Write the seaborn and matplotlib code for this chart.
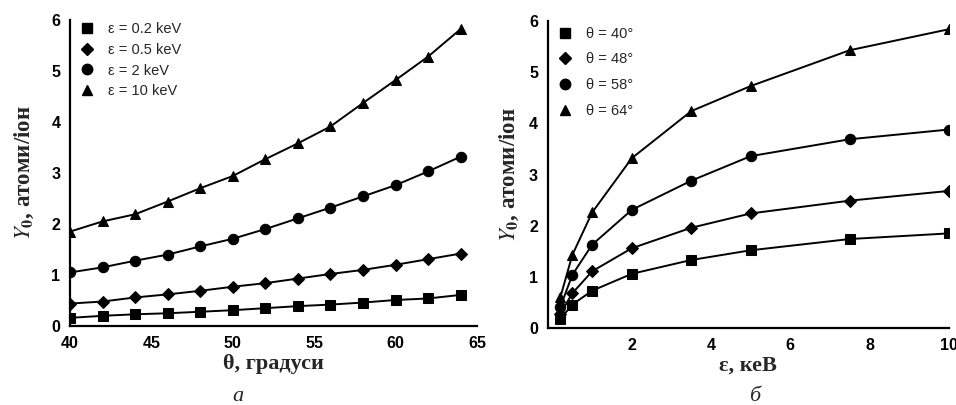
import numpy as np
import pandas as pd
import matplotlib
matplotlib.use("Agg")
import matplotlib.pyplot as plt
from matplotlib.ticker import MultipleLocator, FixedLocator
import seaborn as sns

# panel a: yield vs incidence angle
theta = [40, 42, 44, 46, 48, 50, 52, 54, 56, 58, 60, 62, 64]
y_02kev = [0.16, 0.20, 0.23, 0.25, 0.28, 0.31, 0.35, 0.39, 0.42, 0.46, 0.51, 0.54, 0.61]
y_05kev = [0.44, 0.48, 0.56, 0.62, 0.69, 0.77, 0.84, 0.93, 1.02, 1.10, 1.20, 1.31, 1.42]
y_2kev = [1.05, 1.15, 1.28, 1.40, 1.56, 1.71, 1.90, 2.11, 2.32, 2.54, 2.76, 3.03, 3.32]
y_10kev = [1.85, 2.05, 2.19, 2.44, 2.70, 2.94, 3.27, 3.58, 3.91, 4.37, 4.82, 5.28, 5.82]
labels_a = ["ε = 0.2 keV", "ε = 0.5 keV", "ε = 2 keV", "ε = 10 keV"]

# panel b: yield vs ion energy
energy = [0.2, 0.5, 1, 2, 3.5, 5, 7.5, 10]
y_40 = [0.18, 0.46, 0.73, 1.06, 1.33, 1.52, 1.74, 1.85]
y_48 = [0.28, 0.68, 1.11, 1.56, 1.96, 2.24, 2.49, 2.68]
y_58 = [0.42, 1.04, 1.63, 2.31, 2.88, 3.36, 3.69, 3.88]
y_64 = [0.61, 1.43, 2.26, 3.32, 4.24, 4.73, 5.43, 5.84]
labels_b = ["θ = 40°", "θ = 48°", "θ = 58°", "θ = 64°"]

markers = ["s", "D", "o", "^"]
msizes = [6.5, 6.5, 7.5, 7.5]


def long_frame(x, series, labels, xname):
    rows = []
    for lab, ys in zip(labels, series):
        for xv, yv in zip(x, ys):
            rows.append({xname: xv, "Y": yv, "series": lab})
    return pd.DataFrame(rows)


def style_axes(ax, ypad):
    sns.despine(ax=ax)
    for s in ["left", "bottom"]:
        ax.spines[s].set_linewidth(1.6)
        ax.spines[s].set_color("black")
    ax.tick_params(which="major", direction="out", length=5, width=1.4,
                   labelsize=11.5, pad=2, colors="black")
    ax.tick_params(which="minor", direction="out", length=3, width=1.2, colors="black")
    for lbl in ax.get_xticklabels() + ax.get_yticklabels():
        lbl.set_fontfamily("Liberation Sans")
        lbl.set_fontweight("bold")
    ax.set_ylim(0, 6)
    ax.yaxis.set_major_locator(MultipleLocator(1))
    ax.yaxis.set_minor_locator(MultipleLocator(0.5))
    ax.set_ylabel("$\\mathbf{\\mathit{Y}_0}$, атоми/іон", family="Liberation Serif",
                  fontsize=16.5, fontweight="bold", labelpad=ypad)


def draw(ax, df, xname, labels, spacing, anchor_y, textpad):
    for lab, m, ms in zip(labels, markers, msizes):
        sns.lineplot(data=df[df["series"] == lab], x=xname, y="Y", ax=ax,
                     color="black", linewidth=1.4, marker=m, markersize=ms,
                     markeredgecolor="black", markerfacecolor="black",
                     label=lab, legend=False, sort=True)
    handles = [plt.Line2D([], [], linestyle="none", marker=m, markersize=ms,
                          color="black") for m, ms in zip(markers, msizes)]
    ax.legend(handles, labels, loc="upper left", frameon=False,
              prop={"family": "Liberation Sans", "size": 10.5},
              handletextpad=textpad, labelspacing=spacing, borderaxespad=0.2,
              handlelength=1.2, bbox_to_anchor=(0.0, anchor_y))


sns.set_theme(style="white")
plt.rcParams["font.family"] = ["Liberation Sans", "DejaVu Sans"]
plt.rcParams["mathtext.fontset"] = "stix"

fig = plt.figure(figsize=(9.56, 4.05), dpi=100)
ax1 = fig.add_axes([0.0732, 0.195, 0.4257, 0.756])
ax2 = fig.add_axes([0.573, 0.190, 0.4195, 0.758])

df_a = long_frame(theta, [y_02kev, y_05kev, y_2kev, y_10kev], labels_a, "theta")
draw(ax1, df_a, "theta", labels_a, 0.45, 1.02, 0.8)
ax1.set_xlim(40, 65)
ax1.xaxis.set_major_locator(MultipleLocator(5))
ax1.xaxis.set_minor_locator(MultipleLocator(2.5))
style_axes(ax1, 11)
ax1.set_xlabel("θ, градуси", family="Liberation Serif", fontsize=16,
               fontweight="bold", labelpad=2)

df_b = long_frame(energy, [y_40, y_48, y_58, y_64], labels_b, "energy")
draw(ax2, df_b, "energy", labels_b, 0.8, 1.01, 0.8)
ax2.set_xlim(-0.12, 10)
ax2.xaxis.set_major_locator(FixedLocator([2, 4, 6, 8, 10]))
ax2.xaxis.set_minor_locator(FixedLocator([1, 3, 5, 7, 9]))
style_axes(ax2, 6)
ax2.set_xlabel("ε, кеВ", family="Liberation Serif", fontsize=16,
               fontweight="bold", labelpad=2)

fig.text(0.243, 0.01, "а", family="Liberation Serif", style="italic", fontsize=16)
fig.text(0.783, 0.01, "б", family="Liberation Serif", style="italic", fontsize=16)

fig.savefig("out.png", dpi=100)
